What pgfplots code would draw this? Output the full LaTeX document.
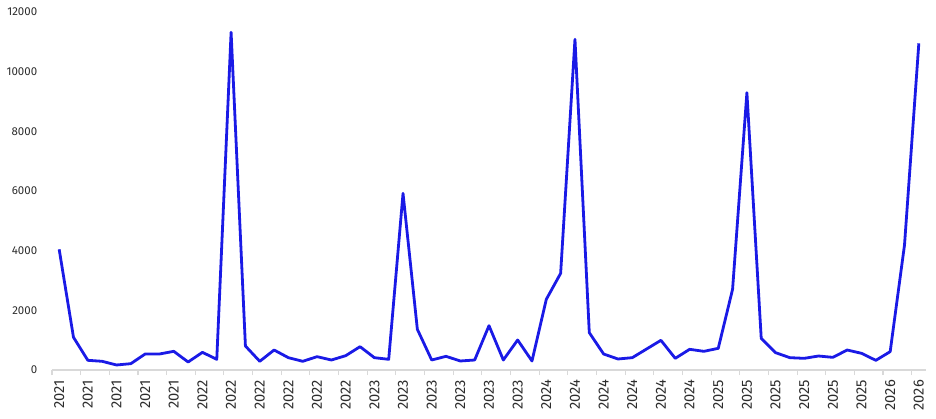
\documentclass[border=0pt]{standalone}
\usepackage{fontspec}
\setmainfont{Fira Sans}
\usepackage{pgfplots}
\pgfplotsset{compat=1.18}
\definecolor{lineblue}{RGB}{26,26,230}
\definecolor{axisgray}{RGB}{217,217,217}
\definecolor{labelgray}{RGB}{45,45,45}
\begin{document}
\begin{tikzpicture}
\useasboundingbox (0,0) rectangle (702pt,313.5pt);
\begin{axis}[
  at={(39pt,36pt)}, anchor=south west,
  scale only axis, width=655.5pt, height=268.5pt,
  xmin=-0.5, xmax=60.5, ymin=0, ymax=12000,
  axis lines*=left,
  y axis line style={draw=none},
  x axis line style={draw=axisgray, line width=0.8pt},
  ytick={0,2000,4000,6000,8000,10000,12000},
  xtick={0,2,...,60},
  xticklabels={2021,2021,2021,2021,2021,2022,2022,2022,2022,2022,2022,2023,2023,2023,2023,2023,2023,2024,2024,2024,2024,2024,2024,2025,2025,2025,2025,2025,2025,2026,2026},
  minor xtick={-0.5,1.5,...,59.5},
  major tick length=0pt,
  minor tick length=3.75pt,
  tick align=outside,
  minor x tick style={draw=axisgray, line width=0.8pt},
  ytick style={draw=none},
  xtick style={draw=none},
  /pgf/number format/assume math mode=true,
  /pgf/number format/set thousands separator={},
  scaled y ticks=false,
  yticklabel shift=7.6pt,
  xticklabel shift=4.0pt,
  y tick label style={font=\fontsize{8.6}{10}\selectfont, text=labelgray},
  x tick label style={font=\fontsize{11}{12}\selectfont, text=labelgray, rotate=90, anchor=east},
  clip=false,
]
\addplot[color=lineblue, line width=2.1pt, line join=round, no marks] coordinates {
(0,4045) (1,1096) (2,325) (3,291) (4,168) (5,212) (6,536) (7,536) (8,626) (9,268)
(10,592) (11,358) (12,11320) (13,804) (14,291) (15,670) (16,413) (17,291) (18,447) (19,335)
(20,480) (21,782) (22,413) (23,358) (24,5920) (25,1364) (26,335) (27,458) (28,302) (29,335)
(30,1486) (31,335) (32,1006) (33,302) (34,2369) (35,3240) (36,11084) (37,1252) (38,536) (39,369)
(40,413) (41,704) (42,995) (43,391) (44,693) (45,626) (46,726) (47,2704) (48,9296) (49,1062)
(50,581) (51,413) (52,391) (53,469) (54,424) (55,670) (56,559) (57,324) (58,615) (59,4190)
(60,10950)
};
\end{axis}
\end{tikzpicture}
\end{document}
